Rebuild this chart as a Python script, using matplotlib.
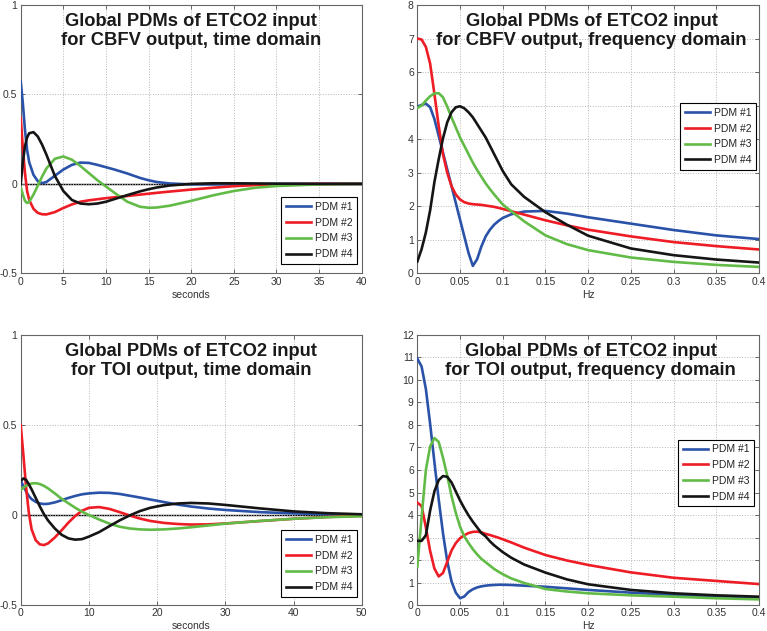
import matplotlib
matplotlib.use("Agg")
import matplotlib.pyplot as plt
from matplotlib.ticker import FuncFormatter

plt.rcParams['font.family'] = ['Liberation Sans', 'DejaVu Sans']

labels = ["PDM #1", "PDM #2", "PDM #3", "PDM #4"]
colors = ["#2A52A8", "#EE1C24", "#62BB46", "#151515"]

# ---------------- CBFV, time domain ----------------
t_cbfv = [0, 0.25, 0.5, 0.75, 1.0, 1.5, 2.0, 2.5, 3.0, 4.0, 5.0, 6.0, 7.0, 8.0, 9.0,
          10, 11, 12.5, 14, 15, 16, 17.5, 20, 22.5, 25, 27.5, 30, 35, 40]
cbfv_t1 = [0.574, 0.45, 0.30, 0.19, 0.12, 0.05, 0.015, 0.004, 0.01, 0.045, 0.08, 0.106, 0.119, 0.117,
           0.106, 0.093, 0.08, 0.058, 0.033, 0.02, 0.01, 0.002, -0.003, -0.003, -0.002, -0.001, 0, 0, 0]
cbfv_t2 = [0.37, 0.2, 0.06, -0.04, -0.09, -0.14, -0.162, -0.17, -0.171, -0.158, -0.135, -0.115, -0.1,
           -0.092, -0.086, -0.08, -0.075, -0.068, -0.06, -0.055, -0.05, -0.043, -0.032, -0.022, -0.013,
           -0.007, -0.003, 0, 0]
cbfv_t3 = [-0.02, -0.06, -0.095, -0.107, -0.1, -0.06, -0.01, 0.04, 0.085, 0.14, 0.153, 0.135, 0.1, 0.06,
           0.02, -0.015, -0.05, -0.1, -0.128, -0.134, -0.132, -0.122, -0.095, -0.065, -0.04, -0.022,
           -0.012, -0.003, 0]
cbfv_t4 = [0.0, 0.12, 0.21, 0.26, 0.283, 0.289, 0.265, 0.22, 0.165, 0.045, -0.04, -0.09, -0.11, -0.114,
           -0.11, -0.1, -0.085, -0.063, -0.042, -0.03, -0.02, -0.009, 0.0, 0.003, 0.003, 0.002, 0.001, 0, 0]

# ---------------- CBFV, frequency domain ----------------
f_cbfv = [0, 0.005, 0.01, 0.015, 0.02, 0.025, 0.03, 0.035, 0.04, 0.045, 0.05, 0.055, 0.06, 0.065,
          0.07, 0.075, 0.08, 0.085, 0.09, 0.095, 0.1, 0.11, 0.125, 0.15, 0.175, 0.2, 0.25, 0.3, 0.35, 0.4]
cbfv_f1 = [4.97, 5.02, 5.06, 4.95, 4.6, 4.1, 3.6, 3.1, 2.6, 2.1, 1.6, 1.1, 0.6, 0.22, 0.42, 0.8, 1.1,
           1.3, 1.45, 1.56, 1.65, 1.76, 1.84, 1.86, 1.78, 1.67, 1.48, 1.29, 1.13, 1.02]
cbfv_f2 = [7.0, 6.97, 6.75, 6.25, 5.35, 4.4, 3.55, 3.0, 2.6, 2.35, 2.2, 2.12, 2.08, 2.06, 2.05, 2.04,
           2.02, 2.0, 1.98, 1.95, 1.92, 1.85, 1.75, 1.58, 1.43, 1.30, 1.10, 0.93, 0.81, 0.71]
cbfv_f3 = [4.93, 5.0, 5.15, 5.28, 5.36, 5.37, 5.25, 4.97, 4.65, 4.35, 4.05, 3.8, 3.55, 3.3, 3.08, 2.88,
           2.68, 2.51, 2.35, 2.2, 2.05, 1.85, 1.55, 1.13, 0.87, 0.69, 0.47, 0.34, 0.25, 0.19]
cbfv_f4 = [0.35, 0.72, 1.22, 1.88, 2.72, 3.4, 4.02, 4.5, 4.8, 4.95, 4.98, 4.92, 4.8, 4.65, 4.45, 4.25,
           4.05, 3.8, 3.55, 3.3, 3.05, 2.65, 2.28, 1.82, 1.45, 1.12, 0.74, 0.54, 0.41, 0.32]

# ---------------- TOI, time domain ----------------
t_toi = [0, 0.4, 0.8, 1.2, 1.6, 2.2, 2.8, 3.4, 4.0, 5, 6, 7, 8, 9, 10, 11.5, 13, 14.5, 16, 17.5, 19,
         21, 23, 25, 27.5, 30, 35, 40, 45, 50]
toi_t1 = [0.19, 0.16, 0.13, 0.105, 0.088, 0.073, 0.064, 0.061, 0.062, 0.07, 0.082, 0.095, 0.106, 0.115,
          0.12, 0.124, 0.123, 0.117, 0.107, 0.097, 0.086, 0.072, 0.058, 0.047, 0.036, 0.028, 0.016,
          0.009, 0.004, 0.002]
toi_t2 = [0.5, 0.33, 0.15, 0.01, -0.08, -0.14, -0.163, -0.167, -0.158, -0.125, -0.085, -0.042, -0.005,
          0.024, 0.04, 0.044, 0.034, 0.016, -0.003, -0.02, -0.033, -0.044, -0.05, -0.053, -0.052,
          -0.047, -0.034, -0.021, -0.011, -0.005]
toi_t3 = [0.139, 0.152, 0.163, 0.171, 0.175, 0.177, 0.172, 0.162, 0.148, 0.12, 0.09, 0.065, 0.04, 0.018,
          0.0, -0.025, -0.048, -0.065, -0.075, -0.08, -0.082, -0.08, -0.075, -0.068, -0.058, -0.048,
          -0.033, -0.021, -0.012, -0.007]
toi_t4 = [0.19, 0.203, 0.195, 0.17, 0.142, 0.095, 0.048, 0.005, -0.03, -0.075, -0.11, -0.13, -0.137,
          -0.134, -0.12, -0.095, -0.062, -0.03, -0.002, 0.022, 0.04, 0.055, 0.064, 0.067, 0.064, 0.056,
          0.037, 0.02, 0.01, 0.004]

# ---------------- TOI, frequency domain ----------------
f_toi = [0, 0.005, 0.01, 0.015, 0.02, 0.025, 0.03, 0.035, 0.04, 0.045, 0.05, 0.055, 0.06, 0.065,
         0.07, 0.075, 0.08, 0.085, 0.09, 0.095, 0.1, 0.11, 0.125, 0.15, 0.175, 0.2, 0.25, 0.3, 0.35, 0.4]
toi_f1 = [10.95, 10.6, 9.6, 8.05, 6.35, 4.7, 3.2, 1.95, 1.05, 0.55, 0.3, 0.38, 0.58, 0.7, 0.78, 0.83,
          0.86, 0.88, 0.89, 0.9, 0.9, 0.89, 0.86, 0.81, 0.74, 0.67, 0.55, 0.44, 0.37, 0.31]
toi_f2 = [4.55, 4.4, 3.45, 2.4, 1.62, 1.27, 1.42, 1.92, 2.42, 2.75, 2.97, 3.1, 3.2, 3.25, 3.26, 3.23,
          3.16, 3.11, 3.05, 2.99, 2.92, 2.78, 2.55, 2.22, 1.98, 1.78, 1.45, 1.21, 1.07, 0.93]
toi_f3 = [1.7, 3.9, 6.0, 7.05, 7.42, 7.25, 6.55, 5.75, 4.85, 4.1, 3.48, 3.05, 2.75, 2.48, 2.25, 2.05,
          1.9, 1.75, 1.6, 1.48, 1.37, 1.18, 0.98, 0.71, 0.6, 0.52, 0.43, 0.37, 0.3, 0.25]
toi_f4 = [2.85, 2.85, 3.1, 4.2, 5.05, 5.55, 5.73, 5.7, 5.45, 5.05, 4.65, 4.3, 3.98, 3.7, 3.45, 3.2,
          3.05, 2.83, 2.65, 2.5, 2.35, 2.1, 1.8, 1.44, 1.14, 0.92, 0.67, 0.52, 0.43, 0.37]

titles = ["Global PDMs of ETCO2 input\nfor CBFV output, time domain",
          "Global PDMs of ETCO2 input\nfor CBFV output, frequency domain",
          "Global PDMs of ETCO2 input\nfor TOI output, time domain",
          "Global PDMs of ETCO2 input\nfor TOI output, frequency domain"]
xlabels = ["seconds", "Hz", "seconds", "Hz"]

fig = plt.figure(figsize=(7.67, 6.31), dpi=100)

panels = [
    dict(rect=[0.0270, 0.5669, 0.4446, 0.4252], x=t_cbfv, ys=[cbfv_t1, cbfv_t2, cbfv_t3, cbfv_t4],
         xlim=(0, 40), xt=[0, 5, 10, 15, 20, 25, 30, 35, 40], ylim=(-0.5, 1), yt=[-0.5, 0, 0.5, 1],
         zero=True, loc='lower right', anchor=(0.986, 0.035), tx=0.5),
    dict(rect=[0.5441, 0.5669, 0.4455, 0.4252], x=f_cbfv, ys=[cbfv_f1, cbfv_f2, cbfv_f3, cbfv_f4],
         xlim=(0, 0.4), xt=[0, 0.05, 0.1, 0.15, 0.2, 0.25, 0.3, 0.35, 0.4], ylim=(0, 8),
         yt=list(range(0, 9)), zero=False, loc='center right', anchor=(0.991, 0.51), tx=0.51),
    dict(rect=[0.0270, 0.0412, 0.4446, 0.4279], x=t_toi, ys=[toi_t1, toi_t2, toi_t3, toi_t4],
         xlim=(0, 50), xt=[0, 10, 20, 30, 40, 50], ylim=(-0.5, 1), yt=[-0.5, 0, 0.5, 1],
         zero=True, loc='lower right', anchor=(0.986, 0.03), tx=0.5),
    dict(rect=[0.5441, 0.0412, 0.4455, 0.4279], x=f_toi, ys=[toi_f1, toi_f2, toi_f3, toi_f4],
         xlim=(0, 0.4), xt=[0, 0.05, 0.1, 0.15, 0.2, 0.25, 0.3, 0.35, 0.4], ylim=(0, 12),
         yt=list(range(0, 13)), zero=False, loc='center right', anchor=(0.985, 0.489), tx=0.507),
]

fmt = FuncFormatter(lambda v, p: f"{v:g}")

for i, p in enumerate(panels):
    ax = fig.add_axes(p['rect'])
    if p['zero']:
        ax.axhline(0, color='black', lw=1.0, zorder=1)
    for y, c, lab in zip(p['ys'], colors, labels):
        ax.plot(p['x'], y, color=c, lw=1.9, label=lab, zorder=3)
    ax.set_xlim(*p['xlim'])
    ax.set_ylim(*p['ylim'])
    ax.set_xticks(p['xt'])
    ax.set_yticks(p['yt'])
    ax.xaxis.set_major_formatter(fmt)
    ax.yaxis.set_major_formatter(fmt)
    ax.grid(True, linestyle=':', color='#b5b5b5', lw=0.7)
    ax.tick_params(direction='in', length=3, width=0.7, color='#666666', labelsize=7.5,
                   labelcolor='#333333', top=True, right=True, pad=2.5)
    for s in ax.spines.values():
        s.set_color('#666666')
        s.set_linewidth(0.8)
    ax.set_xlabel(xlabels[i], fontsize=7.5, color='#333333', labelpad=2)
    ax.text(p['tx'], 0.903, titles[i], transform=ax.transAxes, ha='center', va='center',
            fontsize=13.2, fontweight='bold', color='#1a1a1a', linespacing=1.18, zorder=4)
    leg = ax.legend(loc=p['loc'], bbox_to_anchor=p['anchor'], borderaxespad=0, fontsize=7.5,
                    fancybox=False, framealpha=1, edgecolor='black', handlelength=2.4,
                    handletextpad=0.35, labelspacing=0.55, borderpad=0.45)
    leg.get_frame().set_linewidth(0.8)
    for txt in leg.get_texts():
        txt.set_color('#222222')

fig.savefig("out.png", dpi=100)
